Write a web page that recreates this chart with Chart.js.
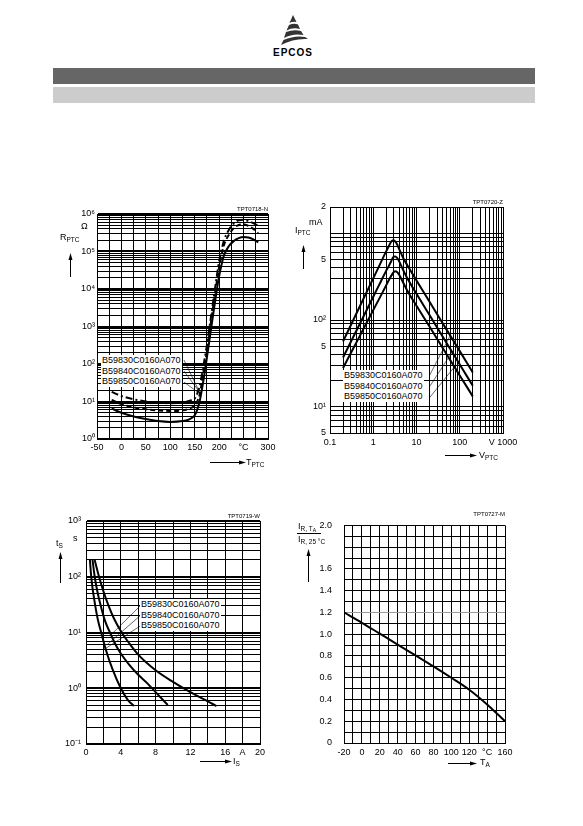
<!DOCTYPE html>
<html>
<head>
<meta charset="utf-8">
<script src="https://cdn.jsdelivr.net/npm/chart.js@4.4.1/dist/chart.umd.min.js"></script>
<style>
body { margin:0; width:583px; height:826px; background:#fff; position:relative; overflow:hidden;
       font-family:"Liberation Sans", Arial, Helvetica, sans-serif; color:#000; }
canvas { position:absolute; }
.t { position:absolute; font-size:9px; line-height:10px; white-space:nowrap; }
.sb { font-size:6.5px; position:relative; top:2px; }
.sb2 { font-size:5px; position:relative; top:1px; }
.code { position:absolute; font-size:6px; line-height:6px; white-space:nowrap; text-align:right; }
.lbl { position:absolute; font-size:9px; line-height:10.5px; background:#fff; padding:0 1px; white-space:nowrap; }
svg.ov { position:absolute; left:0; top:0; }
</style>
</head>
<body>
<div style="position:absolute;left:53px;top:68px;width:482px;height:16px;background:#666"></div>
<div style="position:absolute;left:53px;top:87px;width:482px;height:16px;background:#ccc"></div>
<div class="t" style="left:263px;top:48px;width:60px;text-align:center;font-weight:bold;font-size:10px;letter-spacing:1px">EPCOS</div>

<canvas id="cR" width="238" height="259" style="left:52px;top:202px"></canvas>
<canvas id="cI" width="240" height="260" style="left:285px;top:195px"></canvas>
<canvas id="cT" width="241" height="257" style="left:41px;top:509px"></canvas>
<canvas id="cA" width="228" height="257" style="left:299px;top:508px"></canvas>

<!-- chart 1 texts -->
<div class="code" style="left:218px;top:206px;width:50px">TPT0718-N</div>
<div class="t" style="left:60px;top:232px">R<span class="sb">PTC</span></div>
<div class="t" style="left:81px;top:221px">Ω</div>
<div class="t" style="left:246px;top:457px">T<span class="sb">PTC</span></div>
<div class="lbl" id="lgR" style="left:101px;top:355px"></div>

<!-- chart 2 texts -->
<div class="code" style="left:453px;top:199px;width:50px">TPT0720-Z</div>
<div class="t" style="left:295px;top:225px">I<span class="sb">PTC</span></div>
<div class="t" style="left:309px;top:217px">mA</div>
<div class="t" style="left:479px;top:450px">V<span class="sb">PTC</span></div>
<div class="lbl" id="lgI" style="left:343px;top:370px"></div>

<!-- chart 3 texts -->
<div class="code" style="left:210px;top:513px;width:50px">TPT0719-W</div>
<div class="t" style="left:56px;top:538px">t<span class="sb">S</span></div>
<div class="t" style="left:73px;top:533px">s</div>
<div class="t" style="left:233px;top:756px">I<span class="sb">S</span></div>
<div class="lbl" id="lgT" style="left:140px;top:599px"></div>

<!-- chart 4 texts -->
<div class="code" style="left:455px;top:511px;width:50px">TPT0727-M</div>
<div class="t" style="left:298px;top:521px">I<span class="sb">R, T<span class="sb2">A</span></span></div>
<div style="position:absolute;left:297px;top:533px;width:24px;border-top:1px solid #000"></div>
<div class="t" style="left:298px;top:534px">I<span class="sb">R, 25 °C</span></div>
<div class="t" style="left:480px;top:757px">T<span class="sb">A</span></div>

<svg class="ov" width="583" height="826" viewBox="0 0 583 826">
  <g fill="#333">
    <path d="M293,15 L296.5,22 Q293,21 289.5,23 Z"/>
    <path d="M289,25 Q294,23 298,24.5 L300,29 Q293,27 286.5,30.5 Z"/>
    <path d="M286,32 Q294,29 301,31 L303.5,35 Q293,33 284,38 Z"/>
    <path d="M283.5,40 Q295,35 305,37 L308,39 Q294,38 281,45 Z"/>
  </g>
  <g stroke="#000" stroke-width="1" fill="#000">
    <line x1="70.5" y1="277" x2="70.5" y2="259"/><polygon stroke="none" points="70.5,253 68.5,260 72.5,260"/>
    <line x1="210" y1="462.5" x2="240" y2="462.5"/><polygon stroke="none" points="246,462.5 239,460.5 239,464.5"/>
    <line x1="303.5" y1="269" x2="303.5" y2="251"/><polygon stroke="none" points="303.5,245 301.5,252 305.5,252"/>
    <line x1="445" y1="455.5" x2="471" y2="455.5"/><polygon stroke="none" points="477,455.5 470,453.5 470,457.5"/>
    <line x1="60.5" y1="583" x2="60.5" y2="558"/><polygon stroke="none" points="60.5,552 58.5,559 62.5,559"/>
    <line x1="200" y1="761.5" x2="226" y2="761.5"/><polygon stroke="none" points="232,761.5 225,759.5 225,763.5"/>
    <line x1="308.5" y1="582" x2="308.5" y2="555"/><polygon stroke="none" points="308.5,549 306.5,556 310.5,556"/>
    <line x1="448" y1="763.5" x2="471" y2="763.5"/><polygon stroke="none" points="477,763.5 470,761.5 470,765.5"/>
  </g>
</svg>

<script>
const partNames = ['B59830C0160A070', 'B59840C0160A070', 'B59850C0160A070'];

// R_PTC vs T_PTC
const rTemp = [-20, 0, 25, 50, 75, 100, 125, 140, 150, 155, 160, 165, 170, 175, 180, 185, 190, 195, 200, 205, 210, 220, 230, 240, 250, 260, 270, 280];
const rHigh = [18, 14, 11.5, 10, 9.3, 9, 9.3, 10.5, 12, 16, 25, 55, 130, 320, 900, 2600, 7500, 21000, 55000, 110000, 200000, 380000, 560000, 680000, 700000, 650000, 570000, 490000];
const rMid = [11, 8.5, 7, 6.2, 5.8, 5.6, 5.8, 6.5, 7.8, 10, 15, 35, 85, 220, 650, 1900, 5500, 15000, 38000, 80000, 150000, 280000, 420000, 510000, 530000, 480000, 400000, 305000];
const rLow = [6.5, 5, 4, 3.4, 3, 2.85, 3, 3.4, 4.3, 6, 10, 22, 55, 150, 420, 1200, 3300, 9000, 22000, 45000, 80000, 140000, 190000, 228000, 245000, 235000, 210000, 176000];
const rLeadFrom = [[128, 128], [128, 65], [128, 33]];
const rLeadTo = [[158, 20], [161, 17], [164, 15]];
const rTickVals = [1, 10, 100, 1000, 10000, 100000, 1000000];
const rTickText = ['10⁰', '10¹', '10²', '10³', '10⁴', '10⁵', '10⁶'];
const tpTickVals = [-50, 0, 50, 100, 150, 200, 250, 300];
const tpTickText = ['-50', '0', '50', '100', '150', '200', '°C', '300'];

// I_PTC vs V_PTC
const vVolt = [0.2, 0.5, 1, 1.5, 2, 2.3, 2.6, 2.9, 3.2, 3.6, 4, 5, 6, 10, 20, 50, 100, 200];
const iHigh = [56.6, 147, 302, 460, 620, 710, 800, 830, 805, 735, 650, 510, 435, 285, 162, 77, 43.8, 24.9];
const iMid = [37, 92.5, 185, 278, 370, 420, 475, 530, 540, 515, 470, 370, 308, 200, 114, 54, 30.8, 17.5];
const iLow = [28, 67, 130, 191, 252, 289, 322, 350, 365, 355, 330, 265, 222, 146, 84, 40, 23, 13.2];
const iLeadFrom = [[20.4, 23.4], [20.4, 17.3], [20.4, 12.9]];
const iLeadTo = [[60, 66], [68, 43.5], [76, 29]];
const iTickVals = [5, 10, 50, 100, 500, 2000];
const iTickText = ['5', '10¹', '5', '10²', '5', '2'];
const vTickVals = [0.1, 1, 10, 100, 1000];
const vTickText = ['0.1', '1', '10', '100', 'V 1000'];

// t_S vs I_S
const sLeftI = [0.45, 0.6, 0.8, 1.1, 1.4, 1.75, 2.3, 3.0, 4.0, 4.8, 5.5];
const sLeftT = [200, 100, 55, 28, 16, 10, 4.8, 2.3, 1.0, 0.62, 0.48];
const sMidI = [0.75, 1.0, 1.3, 1.7, 2.2, 2.75, 3.3, 4.0, 5.0, 6.0, 7.0, 8.0, 9.4];
const sMidT = [200, 100, 55, 30, 16, 10, 6.5, 4.2, 2.6, 1.75, 1.25, 0.85, 0.5];
const sRightI = [1.0, 1.5, 2.0, 2.6, 3.2, 4.1, 5.0, 6.0, 8.0, 10.0, 12.0, 14.0, 15.0];
const sRightT = [200, 100, 55, 30, 18, 10, 6.3, 4.0, 2.1, 1.3, 0.85, 0.58, 0.48];
const sLeadFrom = [[6.4, 32], [6.4, 21.2], [6.4, 13.6]];
const sLeadTo = [[3.0, 9.5], [2.4, 6], [2.1, 5]];
const tsTickVals = [0.1, 1, 10, 100, 1000];
const tsTickText = ['10⁻¹', '10⁰', '10¹', '10²', '10³'];
const isTickVals = [0, 4, 8, 12, 16, 18, 20];
const isTickText = ['0', '4', '8', '12', '16', 'A', '20'];

// I_R ratio vs T_A
const taTemp = [-20, 0, 20, 40, 60, 80, 100, 120, 140, 160];
const irRatio = [1.2, 1.105, 1.005, 0.905, 0.805, 0.705, 0.6, 0.49, 0.355, 0.2];
const taTickVals = [-20, 0, 20, 40, 60, 80, 100, 120, 140, 160];
const taTickText = ['-20', '0', '20', '40', '60', '80', '100', '120', '°C', '160'];
const irTickVals = [0, 0.2, 0.4, 0.6, 0.8, 1.0, 1.2, 1.4, 1.6, 2.0];
const irTickText = ['0', '0.2', '0.4', '0.6', '0.8', '1.0', '1.2', '1.4', '1.6', '2.0'];

const FONT = { family: '"Liberation Sans", Arial, sans-serif', size: 9 };

function logGrid(minExp, maxExp, startMant) {
    const out = [];
    for (let e = minExp; e < maxExp; e++) {
        for (let m = 1; m <= 9; m++) {
            if (e === minExp && m < startMant) continue;
            out.push(+(m * Math.pow(10, e)).toPrecision(6));
        }
    }
    out.push(Math.pow(10, maxExp));
    return out;
}
function linGrid(min, max, step) {
    const out = [];
    for (let i = 0; min + i * step <= max + 1e-9; i++) out.push(+(min + i * step).toFixed(4));
    return out;
}
function isDecade(v) {
    const l = Math.log10(v);
    return Math.abs(l - Math.round(l)) < 1e-6;
}

function scale(type, pos, min, max, gridVals, labVals, labText, pad, major, color) {
    return {
        type: type, position: pos, min: min, max: max,
        afterBuildTicks: s => { s.ticks = gridVals.map(v => ({ value: v })); },
        afterFit: s => { if (pos === 'left') s.width = 45; else s.height = 22; },
        ticks: {
            autoSkip: false, maxRotation: 0, minRotation: 0, padding: pad, color: '#000', font: FONT,
            callback: v => {
                const i = labVals.findIndex(l => Math.abs(l - v) <= Math.abs(l) * 1e-6 + 1e-9);
                return i < 0 ? '' : labText[i];
            }
        },
        grid: {
            drawTicks: false,
            color: color || '#000',
            lineWidth: major ? (c => (c.tick && major(c.tick.value)) ? 2 : 1) : 1
        },
        border: { display: true, color: '#000', width: 1 }
    };
}

function curve(xs, ys, dash) {
    return {
        data: xs.map((x, i) => ({ x: x, y: ys[i] })),
        showLine: true, borderColor: '#000', borderWidth: 2, pointRadius: 0,
        cubicInterpolationMode: 'monotone', borderDash: dash || [], fill: false
    };
}
function leaders(from, to) {
    return from.map((p, i) => ({
        data: [{ x: p[0], y: p[1] }, { x: to[i][0], y: to[i][1] }],
        showLine: true, borderColor: '#000', borderWidth: 0.6, pointRadius: 0, fill: false
    }));
}

function makeChart(id, datasets, xScale, yScale) {
    new Chart(document.getElementById(id), {
        type: 'scatter',
        data: { datasets: datasets },
        options: {
            responsive: false, animation: false, events: [],
            layout: { padding: { top: 12, right: 22, left: 0, bottom: 0 } },
            plugins: { legend: { display: false }, tooltip: { enabled: false } },
            scales: { x: xScale, y: yScale }
        }
    });
}

makeChart('cR',
    [curve(rTemp, rHigh, [7, 3, 2, 3]), curve(rTemp, rMid, [5, 3]), curve(rTemp, rLow)].concat(leaders(rLeadFrom, rLeadTo)),
    scale('linear', 'bottom', -50, 300, linGrid(-50, 300, 25), tpTickVals, tpTickText, 3),
    scale('logarithmic', 'left', 1, 1e6, logGrid(0, 6, 1), rTickVals, rTickText, 2, isDecade));

makeChart('cI',
    [curve(vVolt, iHigh), curve(vVolt, iMid), curve(vVolt, iLow)].concat(leaders(iLeadFrom, iLeadTo)),
    scale('logarithmic', 'bottom', 0.1, 1000, logGrid(-1, 3, 1), vTickVals, vTickText, 4),
    scale('logarithmic', 'left', 5, 2000, logGrid(0, 3, 5).concat([2000]), iTickVals, iTickText, 4));

makeChart('cT',
    [curve(sLeftI, sLeftT), curve(sMidI, sMidT), curve(sRightI, sRightT)].concat(leaders(sLeadFrom, sLeadTo)),
    scale('linear', 'bottom', 0, 20, linGrid(0, 20, 2), isTickVals, isTickText, 3),
    scale('logarithmic', 'left', 0.1, 1000, logGrid(-1, 3, 1), tsTickVals, tsTickText, 5, isDecade));

makeChart('cA',
    [curve(taTemp, irRatio)],
    scale('linear', 'bottom', -20, 160, linGrid(-20, 160, 10), taTickVals, taTickText, 4),
    scale('linear', 'left', 0, 2, linGrid(0, 2, 0.1), irTickVals, irTickText, 12, null,
        c => (c.tick && Math.abs(c.tick.value - 1.2) < 1e-6) ? '#999' : '#000'));

document.getElementById('lgR').innerHTML = partNames.join('<br>');
document.getElementById('lgI').innerHTML = partNames.join('<br>');
document.getElementById('lgT').innerHTML = partNames.join('<br>');
</script>
</body>
</html>
